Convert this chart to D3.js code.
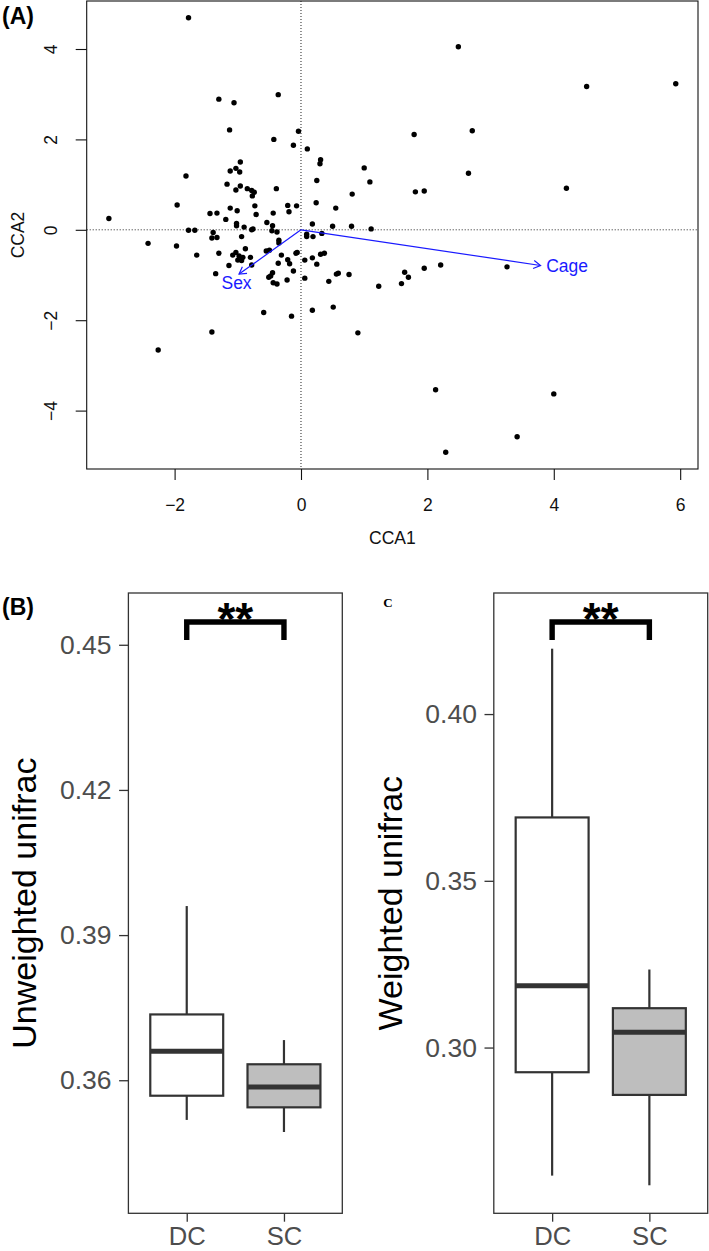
<!DOCTYPE html>
<html><head><meta charset="utf-8">
<script src="https://cdn.jsdelivr.net/npm/d3@7"></script>
<style>
body{margin:0;background:#fff}
svg{display:block;font-family:"Liberation Sans",Arial,Helvetica,sans-serif}
</style>
</head><body>
<svg id="c" width="709" height="1251"></svg>
<script>
// ---------------- Panel A data (CCA site scores) ----------------
const cca1 = [-1.78,-1.30,-1.06,-0.36,-1.13,-0.04,-0.43,-0.12,0.10,-0.96,-1.03,-1.12,-0.97,-1.82,0.31,0.30,0.25,-1.17,-0.96,-1.03,-0.85,-0.78,-0.74,-0.77,-0.39,
-1.96,-3.04,-1.12,-1.01,-0.73,-1.44,-1.33,-0.71,-0.21,-0.07,-0.19,-0.44,0.24,-1.19,-1.02,-1.02,-0.90,-0.76,-0.78,-0.54,-0.45,-0.46,-0.38,-1.78,-1.68,-1.39,-1.41,-1.33,0.18,0.09,0.09,0.19,-0.94,-2.42,-1.97,-1.65,-1.30,-0.35,-0.35,-0.88,-1.03,-1.08,-0.98,-0.92,-0.94,-1.00,-0.80,-0.78,-0.55,-0.50,-0.31,-0.06,-0.08,-0.21,-0.18,0.06,0.18,0.25,0.31,0.37,-0.36,-1.14,-1.35,-0.12,-0.45,-0.48,-0.51,-0.44,-0.38,-0.22,0.06,-0.59,-0.15,0.18,-1.41,-2.26,
1.00,1.79,2.71,2.65,1.09,1.81,1.95,0.81,0.55,0.50,0.80,1.11,0.33,0.44,0.56,0.59,0.76,1.23,1.59,1.64,1.70,1.95,2.21,0.51,0.90,
2.49,4.52,5.93,4.20,3.26,2.13,4.00,3.42,2.29];
const cca2 = [4.69,2.89,2.81,2.99,2.21,2.18,2.00,1.87,1.79,1.50,1.36,1.30,1.28,1.19,1.55,1.46,1.09,1.01,0.97,0.88,0.91,0.87,0.83,0.75,0.91,
0.55,0.25,0.48,0.42,0.53,0.36,0.37,0.34,0.54,0.53,0.40,0.37,0.60,0.23,0.14,0.09,0.06,0.02,0.00,0.16,0.09,-0.02,-0.05,-0.01,-0.01,-0.06,-0.18,-0.17,0.13,-0.10,-0.15,-0.15,-0.15,-0.30,-0.36,-0.56,-0.52,-0.23,-0.29,-0.42,-0.50,-0.56,-0.58,-0.61,-0.68,-0.67,-0.61,-0.78,-0.47,-0.45,-0.56,-0.50,-0.52,-0.66,-0.75,-0.67,-0.62,-0.76,-0.54,-0.52,-0.74,-0.79,-0.97,-0.91,-0.95,-1.02,-1.05,-1.17,-1.20,-1.11,-1.07,-1.83,-1.91,-1.78,-2.26,-2.66,
1.37,2.11,2.19,1.25,1.06,0.84,0.86,0.79,0.48,0.08,0.08,0.02,-0.08,-1.14,-0.98,-0.96,-0.99,-1.25,-1.19,-0.94,-1.05,-0.85,-0.78,-1.71,-2.28,
4.05,3.17,3.23,0.92,-0.82,-3.54,-3.63,-4.58,-4.92];
const arrowNames = ["Sex","Cage"];
const arrowX = [-0.98, 3.79];
const arrowY = [-0.98, -0.79];
const labelX = [-1.02, 4.21];
const labelY = [-1.18, -0.79];
const xTicksA = [-2,0,2,4,6];
const yTicksA = [-4,-2,0,2,4];

// ---------------- Panels B / C data (box plot statistics) ----------------
const groups = ["DC","SC"];
const unwLower = [0.3518, 0.3493];
const unwQ1    = [0.3568, 0.3544];
const unwMed   = [0.3660, 0.3586];
const unwQ3    = [0.3736, 0.3633];
const unwUpper = [0.3960, 0.3683];
const unwTicks = [0.36, 0.39, 0.42, 0.45];
const unwBracket = [0.4510, 0.4547];

const wLower = [0.2616, 0.2587];
const wQ1    = [0.2926, 0.2858];
const wMed   = [0.3185, 0.3046];
const wQ3    = [0.3690, 0.3118];
const wUpper = [0.4196, 0.3234];
const wTicks = [0.30, 0.35, 0.40];
const wBracket = [0.4222, 0.4276];

const svg = d3.select("#c");

// ================= Panel A =================
const A = {l:86.7, r:698, t:1, b:469};
const x = d3.scaleLinear().domain([-3.391, 6.282]).range([A.l, A.r]);
const y = d3.scaleLinear().domain([-5.292, 5.062]).range([A.b, A.t]);
const gA = svg.append("g");

// dotted reference lines
gA.append("line").attr("x1", x(0)).attr("x2", x(0)).attr("y1", A.t).attr("y2", A.b)
  .attr("stroke","#222").attr("stroke-width",1).attr("stroke-dasharray","1,2");
gA.append("line").attr("x1", A.l).attr("x2", A.r).attr("y1", y(0)).attr("y2", y(0))
  .attr("stroke","#222").attr("stroke-width",1).attr("stroke-dasharray","1,2");

// points
gA.append("g").selectAll("circle").data(cca1.map((v,i)=>[v,cca2[i]])).join("circle")
  .attr("cx", d=>x(d[0])).attr("cy", d=>y(d[1])).attr("r", 2.7).attr("fill","#000");

// arrows
const blue = "#1a1aff";
arrowNames.forEach((nm,i)=>{
  const x0 = x(0), y0 = y(0), x1 = x(arrowX[i]), y1 = y(arrowY[i]);
  gA.append("line").attr("x1",x0).attr("y1",y0).attr("x2",x1).attr("y2",y1)
    .attr("stroke",blue).attr("stroke-width",1.2);
  const ang = Math.atan2(y1-y0, x1-x0), L = 8, a = Math.PI/6;
  const p1 = [x1 - L*Math.cos(ang-a), y1 - L*Math.sin(ang-a)];
  const p2 = [x1 - L*Math.cos(ang+a), y1 - L*Math.sin(ang+a)];
  gA.append("path").attr("d",`M${p1[0]},${p1[1]}L${x1},${y1}L${p2[0]},${p2[1]}`)
    .attr("fill","none").attr("stroke",blue).attr("stroke-width",1.2);
  gA.append("text").attr("x", x(labelX[i])).attr("y", y(labelY[i])).attr("dy","0.36em")
    .attr("text-anchor","middle").attr("font-size",17.5).attr("fill",blue).text(nm);
});

// frame
gA.append("rect").attr("x",A.l).attr("y",A.t).attr("width",A.r-A.l).attr("height",A.b-A.t)
  .attr("fill","none").attr("stroke","#111").attr("stroke-width",1.1);

// x axis
const axA = gA.append("g").attr("transform",`translate(0,${A.b})`)
  .call(d3.axisBottom(x).tickValues(xTicksA).tickSize(11).tickPadding(18.9));
axA.select(".domain").remove();
axA.selectAll(".tick line").attr("stroke","#111").attr("stroke-width",1.1);
axA.selectAll(".tick text").attr("font-size",17.5).attr("fill","#111").attr("font-family",null);
// y axis
const ayA = gA.append("g").attr("transform",`translate(${A.l},0)`)
  .call(d3.axisLeft(y).tickValues(yTicksA).tickSize(11));
ayA.select(".domain").remove();
ayA.selectAll(".tick line").attr("stroke","#111").attr("stroke-width",1.1);
ayA.selectAll(".tick text").attr("font-size",17.5).attr("fill","#111").attr("font-family",null)
  .attr("x",0).attr("y",0).attr("dy",0).attr("text-anchor","middle")
  .attr("transform",`translate(${57.0-A.l},0) rotate(-90)`);

gA.append("text").attr("x",(A.l+A.r)/2).attr("y",544.3).attr("text-anchor","middle")
  .attr("font-size",17.5).attr("fill","#111").text("CCA1");
gA.append("text").attr("transform",`translate(24,${(A.t+A.b)/2}) rotate(-90)`).attr("text-anchor","middle")
  .attr("font-size",17.5).attr("fill","#111").text("CCA2");
gA.append("text").attr("x",2).attr("y",24).attr("font-size",23).attr("font-weight","bold").text("(A)");

// ================= Panels B and C =================
function boxPanel(left, right, domain, ticks, lo, q1, md, q3, hi, bracket, title, titleBaseX) {
  const top = 593, bottom = 1213.3;
  const g = svg.append("g");
  const xs = d3.scalePoint().domain(groups).range([left, right]).padding(0.6);
  const ys = d3.scaleLinear().domain(domain).range([bottom, top]);
  const bw = xs.step()*0.75;
  const col = "#333333";
  const fills = ["#ffffff", "#bebebe"];
  groups.forEach((grp,i)=>{
    const cx = xs(grp);
    g.append("line").attr("x1",cx).attr("x2",cx).attr("y1",ys(q3[i])).attr("y2",ys(hi[i]))
      .attr("stroke",col).attr("stroke-width",2.2);
    g.append("line").attr("x1",cx).attr("x2",cx).attr("y1",ys(q1[i])).attr("y2",ys(lo[i]))
      .attr("stroke",col).attr("stroke-width",2.2);
    g.append("rect").attr("x",cx-bw/2).attr("y",ys(q3[i])).attr("width",bw)
      .attr("height",ys(q1[i])-ys(q3[i])).attr("fill",fills[i]).attr("stroke",col).attr("stroke-width",2.2);
    g.append("line").attr("x1",cx-bw/2).attr("x2",cx+bw/2).attr("y1",ys(md[i])).attr("y2",ys(md[i]))
      .attr("stroke",col).attr("stroke-width",5);
  });
  // significance bracket
  const b0 = ys(bracket[0]), b1 = ys(bracket[1]);
  g.append("path").attr("d",`M${xs(groups[0])},${b0}V${b1}H${xs(groups[1])}V${b0}`)
    .attr("fill","none").attr("stroke","#000").attr("stroke-width",5.4);
  g.append("text").attr("x",(xs(groups[0])+xs(groups[1]))/2).attr("y",b1+12.5)
    .attr("text-anchor","middle").attr("font-size",46).attr("font-weight","bold").text("**");
  // frame
  g.append("rect").attr("x",left).attr("y",top).attr("width",right-left).attr("height",bottom-top)
    .attr("fill","none").attr("stroke",col).attr("stroke-width",1.3);
  // axes
  const ay = g.append("g").attr("transform",`translate(${left},0)`)
    .call(d3.axisLeft(ys).tickValues(ticks).tickFormat(d3.format(".2f")).tickSize(9.3).tickPadding(7.6));
  ay.select(".domain").remove();
  ay.selectAll(".tick line").attr("stroke",col).attr("stroke-width",1.3);
  ay.selectAll(".tick text").attr("font-size",26.5).attr("fill","#4d4d4d").attr("font-family",null);
  const ax = g.append("g").attr("transform",`translate(0,${bottom})`)
    .call(d3.axisBottom(xs).tickSize(8.4).tickPadding(5.5));
  ax.select(".domain").remove();
  ax.selectAll(".tick line").attr("stroke",col).attr("stroke-width",1.3);
  ax.selectAll(".tick text").attr("font-size",25.6).attr("fill","#4d4d4d").attr("font-family",null);
  g.append("text").attr("transform",`translate(${titleBaseX},${(top+bottom)/2}) rotate(-90)`)
    .attr("text-anchor","middle").attr("font-size",34).attr("fill","#000").text(title);
}

boxPanel(128.4, 342.3, [0.3325, 0.4607], unwTicks, unwLower, unwQ1, unwMed, unwQ3, unwUpper, unwBracket, "Unweighted unifrac", 35.8);
boxPanel(493.8, 707.7, [0.2503, 0.4363], wTicks, wLower, wQ1, wMed, wQ3, wUpper, wBracket, "Weighted unifrac", 402.3);

svg.append("text").attr("x",2).attr("y",614.5).attr("font-size",23).attr("font-weight","bold").text("(B)");
svg.append("text").attr("x",388).attr("y",606.5).attr("text-anchor","middle")
  .attr("font-family","'Liberation Serif','Times New Roman',serif").attr("font-size",13).attr("font-weight","bold").text("C");
</script>
</body></html>
